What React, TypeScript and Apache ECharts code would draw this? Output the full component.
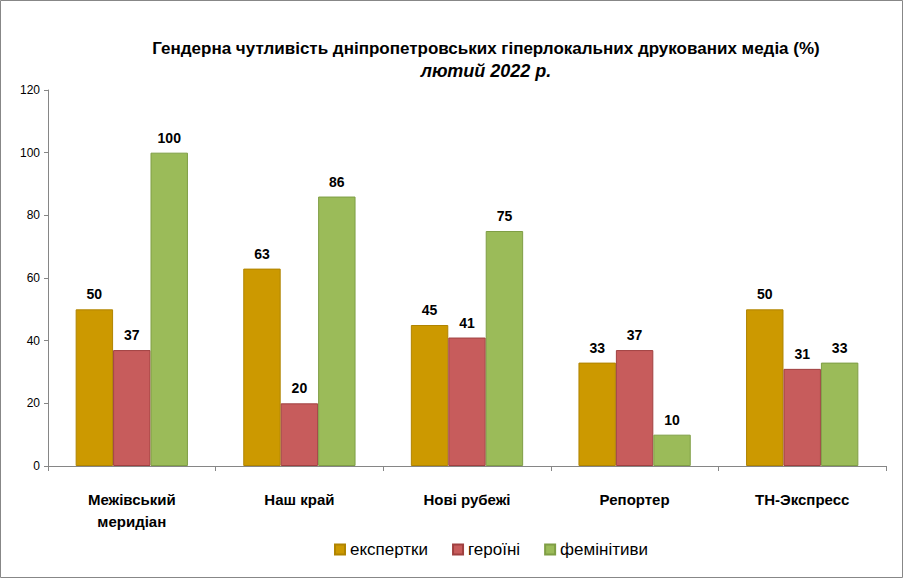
import React, { useEffect, useRef } from "react";
import * as echarts from "echarts";

const categories = ["Межівський\nмеридіан", "Наш край", "Нові рубежі", "Репортер", "ТН-Экспресс"];
const seriesNames = ["експертки", "героїні", "фемінітиви"];
const ekspertky = [50, 63, 45, 33, 50];
const heroini = [37, 20, 41, 37, 31];
const feminityvy = [100, 86, 75, 10, 33];
const colors = ["#CC9900", "#C75C5C", "#9BBB59"];
const borders = ["#B08400", "#A04040", "#7F9E45"];
const yTicks = { min: 0, max: 120, interval: 20 };

export default function App() {
  const ref = useRef<HTMLDivElement>(null);
  useEffect(() => {
    document.body.style.margin = "0";
    const chart = echarts.init(ref.current!, undefined, { renderer: "svg" });
    const font = "'Liberation Sans', Arial, sans-serif";
    const data = [ekspertky, heroini, feminityvy];
    chart.setOption({
      animation: false,
      backgroundColor: "#fff",
      textStyle: { fontFamily: font },
      title: {
        text: "Гендерна чутливість дніпропетровських гіперлокальних друкованих медіа (%)",
        subtext: "лютий 2022 р.",
        left: 481,
        top: 35,
        textAlign: "center",
        itemGap: 5,
        textStyle: { fontFamily: font, fontSize: 17, fontWeight: "bold", color: "#000" },
        subtextStyle: { fontFamily: font, fontSize: 18, fontWeight: "bold", fontStyle: "italic", color: "#000" },
      },
      graphic: [
        {
          type: "rect",
          shape: { x: 0.5, y: 0.5, width: 902, height: 577 },
          style: { fill: "none", stroke: "#878787", lineWidth: 1 },
          silent: true,
        },
      ],
      legend: {
        data: seriesNames,
        left: 329,
        top: 536,
        itemWidth: 10,
        itemHeight: 10,
        itemGap: 24,
        icon: "rect",
        textStyle: { fontFamily: font, fontSize: 17, color: "#000" },
      },
      grid: { left: 48, right: 17, top: 90, bottom: 112, containLabel: false },
      xAxis: {
        type: "category",
        data: categories,
        axisLine: { lineStyle: { color: "#868686" } },
        axisTick: { show: true, length: 5, inside: false, lineStyle: { color: "#868686" } },
        axisLabel: {
          interval: 0,
          margin: 22,
          fontFamily: font,
          fontSize: 15,
          fontWeight: "bold",
          color: "#000",
          lineHeight: 22,
        },
      },
      yAxis: {
        type: "value",
        min: yTicks.min,
        max: yTicks.max,
        interval: yTicks.interval,
        axisLine: { show: true, lineStyle: { color: "#868686" } },
        axisTick: { show: true, length: 4, lineStyle: { color: "#868686" } },
        splitLine: { show: false },
        axisLabel: { fontFamily: font, fontSize: 12, color: "#000", margin: 8 },
      },
      series: seriesNames.map((name, i) => ({
        name,
        type: "bar",
        data: data[i],
        barGap: "0%",
        barCategoryGap: "33%",
        itemStyle: { color: colors[i], borderColor: borders[i], borderWidth: 1 },
        label: {
          show: true,
          position: "top",
          distance: 8,
          fontFamily: font,
          fontSize: 14,
          fontWeight: "bold",
          color: "#000",
        },
      })),
    });
    return () => chart.dispose();
  }, []);
  return <div ref={ref} style={{ width: 903, height: 578, position: "absolute", left: 0, top: 0 }} />;
}
